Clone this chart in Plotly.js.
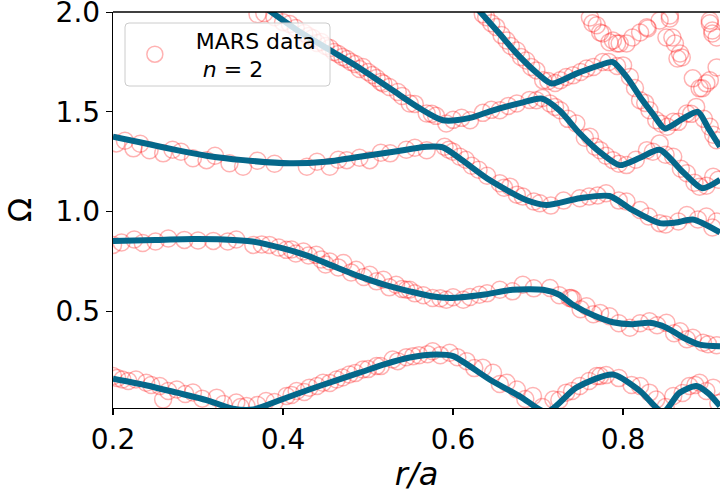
<!DOCTYPE html>
<html>
<head>
<meta charset="utf-8">
<script src="https://cdn.plot.ly/plotly-3.0.1.min.js"></script>
<style>html,body{margin:0;padding:0;background:#fff;}#chart{width:720px;height:493px;}</style>
</head>
<body>
<div id="chart"></div>
<script>
// ---- tick labels ----
const xTickVals = [0.2, 0.4, 0.6, 0.8];
const xTickText = ['0.2', '0.4', '0.6', '0.8'];
const yTickVals = [0.5, 1.0, 1.5, 2.0];
const yTickText = ['0.5', '1.0', '1.5', '2.0'];

// ---- fitted continuum branches (solid lines) ----
const branchA_r = [0.2,0.24,0.275,0.31,0.341,0.365,0.40,0.431,0.46,0.49,0.52,0.549,0.58,0.60,0.643,0.68,0.71,0.745,0.788,0.82,0.847,0.866,0.886,0.90,0.914];
const branchA_w = [0.162,0.128,0.092,0.055,0.012,0.008,0.06,0.108,0.15,0.192,0.235,0.268,0.283,0.275,0.158,0.07,-0.005,0.117,0.183,0.10,-0.005,0.09,0.125,0.09,0.025];

const branchB_r = [0.2,0.25,0.294,0.33,0.364,0.40,0.431,0.46,0.49,0.52,0.549,0.575,0.596,0.635,0.67,0.706,0.725,0.741,0.765,0.788,0.81,0.831,0.851,0.87,0.89,0.914];
const branchB_w = [0.853,0.858,0.862,0.86,0.85,0.815,0.775,0.725,0.675,0.632,0.60,0.575,0.567,0.583,0.608,0.608,0.583,0.533,0.48,0.445,0.435,0.442,0.418,0.37,0.333,0.325];

const branchC_r = [0.2,0.24,0.275,0.31,0.353,0.408,0.45,0.49,0.53,0.569,0.588,0.61,0.643,0.686,0.71,0.749,0.784,0.81,0.843,0.862,0.882,0.914];
const branchC_w = [1.375,1.34,1.308,1.28,1.258,1.242,1.25,1.275,1.30,1.325,1.322,1.26,1.158,1.058,1.033,1.067,1.078,1.01,0.942,0.945,0.96,0.895];

const branchD_r = [0.38,0.42,0.455,0.49,0.529,0.56,0.588,0.62,0.647,0.68,0.704,0.725,0.749,0.775,0.796,0.82,0.843,0.87,0.893,0.914];
const branchD_w = [2.02,1.90,1.81,1.72,1.608,1.52,1.458,1.47,1.508,1.545,1.567,1.508,1.392,1.29,1.233,1.27,1.31,1.20,1.117,1.16];

const branchE_r = [0.628,0.655,0.675,0.70,0.716,0.745,0.77,0.788,0.805,0.82,0.835,0.849,0.868,0.888,0.90,0.914];
const branchE_w = [2.02,1.89,1.792,1.69,1.642,1.692,1.73,1.75,1.67,1.575,1.49,1.417,1.46,1.5,1.42,1.325];

// ---- MARS data points (open circles) ----
const marsA_r = [0.2,0.211,0.227,0.239,0.255,0.275,0.294,0.259,0.322,0.345,0.357,0.38,0.404,0.416,0.431,0.447,0.463,0.478,0.494,0.51,0.529,0.553,0.576,0.596,0.616,0.635,0.647,0.663,0.675,0.694,0.718,0.733,0.749,0.769,0.773,0.82,0.831,0.839,0.859,0.878,0.89,0.906,
  0.205,0.218,0.245,0.265,0.285,0.305,0.33,0.35,0.37,0.39,0.41,0.425,0.44,0.455,0.47,0.485,0.50,0.515,0.535,0.545,0.56,0.57,0.585,0.605,0.625,0.655,0.685,0.705,0.725,0.74,0.76,0.78,0.795,0.81,0.85,0.87,0.885,0.898,0.912];
const marsA_w = [0.175,0.158,0.158,0.142,0.125,0.108,0.093,0.058,0.067,0.042,0.025,0.05,0.075,0.10,0.117,0.142,0.158,0.183,0.208,0.225,0.258,0.275,0.30,0.292,0.25,0.217,0.192,0.142,0.108,0.075,0.058,0.092,0.125,0.175,0.175,0.125,0.092,0.058,0.075,0.125,0.142,0.117,
  0.165,0.15,0.13,0.10,0.085,0.062,0.035,0.02,0.03,0.045,0.08,0.095,0.125,0.14,0.168,0.19,0.21,0.225,0.25,0.27,0.28,0.285,0.28,0.27,0.215,0.135,0.06,0.02,0.055,0.10,0.15,0.18,0.165,0.13,0.02,0.09,0.13,0.10,0.04];

const marsB_r = [0.2,0.235,0.284,0.318,0.335,0.365,0.384,0.404,0.424,0.439,0.455,0.471,0.486,0.502,0.518,0.533,0.545,0.549,0.576,0.592,0.612,0.631,0.655,0.682,0.714,0.737,0.739,0.741,0.757,0.773,0.784,0.808,0.831,0.851,0.867,0.882,0.894,
  0.21,0.225,0.25,0.265,0.3,0.345,0.375,0.395,0.41,0.415,0.43,0.445,0.45,0.465,0.48,0.495,0.51,0.525,0.54,0.555,0.565,0.585,0.6,0.62,0.64,0.67,0.695,0.725,0.75,0.765,0.795,0.82,0.84,0.86,0.875,0.90,0.91];
const marsB_w = [0.833,0.842,0.858,0.853,0.85,0.833,0.833,0.808,0.80,0.783,0.75,0.742,0.708,0.683,0.658,0.633,0.608,0.608,0.567,0.558,0.558,0.583,0.608,0.633,0.617,0.567,0.567,0.562,0.525,0.492,0.475,0.417,0.45,0.442,0.40,0.367,0.342,
  0.845,0.86,0.85,0.865,0.855,0.86,0.835,0.82,0.81,0.79,0.78,0.76,0.735,0.72,0.695,0.672,0.65,0.62,0.612,0.59,0.58,0.565,0.57,0.572,0.59,0.60,0.615,0.58,0.51,0.485,0.44,0.44,0.43,0.39,0.36,0.335,0.33];

const marsC_r = [0.204,0.224,0.243,0.259,0.294,0.31,0.337,0.353,0.428,0.455,0.475,0.502,0.526,0.569,0.60,0.615,0.63,0.64,0.655,0.667,0.682,0.702,0.749,0.78,0.804,0.82,0.843,0.875,0.898,0.91,
  0.214,0.232,0.27,0.28,0.32,0.37,0.39,0.44,0.465,0.49,0.515,0.545,0.555,0.59,0.595,0.608,0.622,0.66,0.675,0.695,0.715,0.73,0.76,0.77,0.795,0.83,0.85,0.865,0.888,0.905];
const marsC_w = [1.342,1.317,1.308,1.292,1.267,1.258,1.242,1.225,1.225,1.225,1.258,1.258,1.292,1.308,1.30,1.26,1.21,1.18,1.142,1.125,1.075,1.042,1.067,1.092,1.05,1.008,0.942,0.983,0.975,0.95,
  1.355,1.34,1.31,1.30,1.28,1.255,1.24,1.25,1.26,1.27,1.295,1.31,1.32,1.325,1.31,1.275,1.23,1.12,1.085,1.05,1.03,1.055,1.075,1.08,1.055,0.975,0.935,0.95,0.96,0.92];

const marsD_r = [0.37,0.39,0.40,0.415,0.425,0.435,0.445,0.455,0.465,0.475,0.485,0.494,0.50,0.51,0.518,0.535,0.549,0.569,0.58,0.592,0.62,0.655,0.675,0.698,0.714,0.726,0.745,0.761,0.773,0.788,0.804,0.828,0.843,0.859,0.875,0.89,0.906,
  0.378,0.408,0.43,0.44,0.45,0.46,0.47,0.48,0.49,0.505,0.515,0.525,0.54,0.555,0.575,0.60,0.61,0.635,0.645,0.665,0.69,0.705,0.72,0.735,0.755,0.767,0.78,0.795,0.815,0.835,0.85,0.868,0.884,0.898,0.912];
const marsD_w = [1.99,1.975,1.95,1.92,1.895,1.87,1.85,1.82,1.79,1.765,1.74,1.725,1.70,1.67,1.642,1.60,1.542,1.492,1.48,1.442,1.458,1.508,1.542,1.558,1.542,1.508,1.442,1.375,1.308,1.258,1.233,1.308,1.342,1.275,1.192,1.125,1.175,
  1.995,1.94,1.88,1.845,1.83,1.80,1.775,1.75,1.715,1.685,1.65,1.625,1.58,1.54,1.49,1.46,1.47,1.495,1.51,1.53,1.56,1.57,1.525,1.465,1.37,1.325,1.28,1.24,1.26,1.30,1.285,1.215,1.145,1.13,1.16];

const marsE_r = [0.639,0.651,0.663,0.675,0.686,0.698,0.706,0.726,0.741,0.757,0.776,0.80,0.808,0.82,0.831,0.839,0.859,0.875,0.886,0.902,0.91,
  0.635,0.645,0.657,0.668,0.68,0.692,0.712,0.72,0.733,0.75,0.765,0.783,0.793,0.814,0.826,0.845,0.852,0.865,0.88,0.895,0.906];
const marsE_w = [1.975,1.925,1.858,1.808,1.758,1.708,1.658,1.658,1.683,1.717,1.75,1.733,1.675,1.558,1.508,1.458,1.45,1.492,1.525,1.425,1.358,
  1.99,1.945,1.885,1.83,1.775,1.725,1.655,1.645,1.675,1.70,1.725,1.75,1.73,1.62,1.545,1.44,1.425,1.45,1.49,1.465,1.385];

const marsUpper_r = [0.761,0.764,0.769,0.773,0.776,0.784,0.788,0.793,0.796,0.804,0.811,0.820,0.828,0.829,0.843,0.855,0.855,0.851,0.858,0.861,0.867,0.869,0.864,0.882,0.890,0.893,0.898,0.902,0.902,0.902,0.905,0.905,0.910,0.910];
const marsUpper_w = [1.973,1.944,1.934,1.898,1.893,1.849,1.858,1.843,1.843,1.843,1.873,1.898,1.924,1.918,1.958,1.983,1.968,1.873,1.873,1.843,1.793,1.773,1.768,1.668,1.618,1.618,1.643,1.658,1.958,1.944,1.908,1.893,1.873,1.723];

const lineColor = '#05678a';
const traces = [];

traces.push({
  type: 'scatter', mode: 'markers',
  name: '\u00a0\u00a0\u00a0MARS data<br>\u00a0\u00a0\u00a0\u00a0<i>n</i> = 2',
  x: [].concat(marsA_r, marsB_r, marsC_r, marsD_r, marsE_r, marsUpper_r),
  y: [].concat(marsA_w, marsB_w, marsC_w, marsD_w, marsE_w, marsUpper_w),
  marker: {symbol: 'circle-open', size: 17, color: 'rgba(255,0,0,0.3)', line: {width: 1.5}},
  cliponaxis: true, hoverinfo: 'skip'
});

[[branchA_r, branchA_w], [branchB_r, branchB_w], [branchC_r, branchC_w], [branchD_r, branchD_w], [branchE_r, branchE_w]].forEach(function (b) {
  traces.push({
    type: 'scatter', mode: 'lines', x: b[0], y: b[1], showlegend: false,
    line: {color: lineColor, width: 6, shape: 'spline', smoothing: 0.7},
    hoverinfo: 'skip'
  });
});

// legend frame (rounded) in paper coordinates
const plotW = 607, plotH = 396;
const bx0 = 12 / plotW, bx1 = 217 / plotW;
const by1 = (396 - 11) / plotH, by0 = (396 - 74) / plotH;
const rx = 4 / plotW, ry = 4 / plotH;
const framePath = 'M ' + (bx0 + rx) + ' ' + by1 +
  ' L ' + (bx1 - rx) + ' ' + by1 + ' Q ' + bx1 + ' ' + by1 + ' ' + bx1 + ' ' + (by1 - ry) +
  ' L ' + bx1 + ' ' + (by0 + ry) + ' Q ' + bx1 + ' ' + by0 + ' ' + (bx1 - rx) + ' ' + by0 +
  ' L ' + (bx0 + rx) + ' ' + by0 + ' Q ' + bx0 + ' ' + by0 + ' ' + bx0 + ' ' + (by0 + ry) +
  ' L ' + bx0 + ' ' + (by1 - ry) + ' Q ' + bx0 + ' ' + by1 + ' ' + (bx0 + rx) + ' ' + by1 + ' Z';

const font = 'DejaVu Sans, sans-serif';
const layout = {
  width: 720, height: 493,
  margin: {l: 113, r: 0, t: 12, b: 85, pad: 0},
  paper_bgcolor: '#ffffff', plot_bgcolor: '#ffffff',
  font: {family: font, color: '#000000', size: 28},
  showlegend: true,
  legend: {
    x: 0.036, y: 0.982, xanchor: 'left', yanchor: 'top',
    bgcolor: 'rgba(0,0,0,0)', borderwidth: 0,
    font: {family: font, size: 22, color: '#000'},
    itemwidth: 30, tracegroupgap: 0
  },
  xaxis: {
    range: [0.2, 0.914], tickmode: 'array', tickvals: xTickVals, ticktext: xTickText,
    ticks: 'outside', ticklen: 6, tickwidth: 1.2, tickcolor: '#000',
    showline: true, linecolor: '#000', linewidth: 1.3, mirror: false,
    showgrid: false, zeroline: false, automargin: false, ticklabeloverflow: 'allow',
    tickfont: {family: font, size: 28, color: '#000'},
    title: {text: '<i>r/a</i>', font: {family: font, size: 32, color: '#000'}, standoff: 4}
  },
  yaxis: {
    range: [0.015, 2.0008], tickmode: 'array', tickvals: yTickVals, ticktext: yTickText,
    ticks: 'outside', ticklen: 6, tickwidth: 1.2, tickcolor: '#000',
    showline: true, linecolor: '#000', linewidth: 1.3, mirror: false,
    showgrid: false, zeroline: false, automargin: false, ticklabeloverflow: 'allow',
    tickfont: {family: font, size: 28, color: '#000'},
    title: {text: 'Ω', font: {family: font, size: 32, color: '#000'}, standoff: 14}
  },
  shapes: [
    {type: 'path', xref: 'paper', yref: 'paper',
     path: 'M 0 0.998 L 1 0.998 L 1 1.0016 L 0 1.0016 Z',
     fillcolor: '#000000', line: {width: 0}, layer: 'above'},
    {type: 'path', xref: 'paper', yref: 'paper', path: framePath,
     fillcolor: 'rgba(255,255,255,0.8)', line: {color: '#cccccc', width: 1}, layer: 'above'}
  ]
};

Plotly.newPlot('chart', traces, layout, {staticPlot: true, displayModeBar: false});
</script>
</body>
</html>
